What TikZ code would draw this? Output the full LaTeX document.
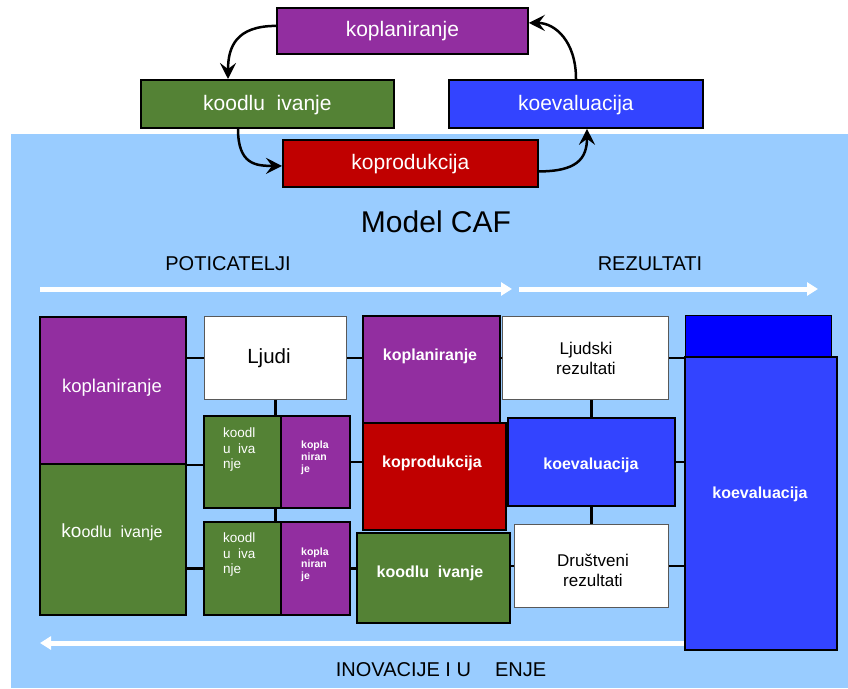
\documentclass[tikz,border=0pt]{standalone}
\usepackage{fontspec}
\setmainfont{Liberation Sans}
\usetikzlibrary{arrows.meta,calc}
\pgfdeclarelayer{bg}
\pgfdeclarelayer{lines}
\pgfsetlayers{bg,lines,main}

\definecolor{skyback}{HTML}{99CCFF}
\definecolor{cafpurple}{HTML}{922EA0}
\definecolor{cafgreen}{HTML}{548235}
\definecolor{cafblue}{HTML}{3344FF}
\definecolor{cafdark}{HTML}{0000FF}
\definecolor{cafred}{HTML}{C00000}

\begin{document}
\begin{tikzpicture}[x=1pt,y=-1pt,
  box/.style={draw=black,line width=1.8pt,anchor=north west,inner sep=0pt},
  wbox/.style={draw=black!65,line width=1pt,fill=white,anchor=north west,inner sep=0pt},
  tt/.style={inner sep=0pt,anchor=base},
  conn/.style={draw=black,line width=2.2pt},
  cyc/.style={line width=2.5pt,-{Stealth[length=16pt,width=16pt,inset=6pt]}},
  warrow/.style={draw=white,line width=5pt,-{Triangle[length=11pt,width=13pt]}},
  topfont/.style={font=\fontsize{21}{25}\selectfont,text=white},
  boldw/.style={font=\fontsize{16}{19}\selectfont\bfseries,text=white}]

\useasboundingbox (0,0) rectangle (848,688);
\begin{pgfonlayer}{bg}
  \fill[white] (0,0) rectangle (848,688);
  \fill[skyback] (11,134) rectangle (848,688);
\end{pgfonlayer}

% ---------- cycle of the four co-activities ----------
\node[box,fill=cafpurple,minimum width=251pt,minimum height=46pt] (tkp) at (276,7) {};
\node[box,fill=cafgreen,minimum width=253pt,minimum height=48pt] (tkd) at (140,79) {};
\node[box,fill=cafblue,minimum width=254pt,minimum height=48pt] (tke) at (448,79) {};
\node[box,fill=cafred,minimum width=255pt,minimum height=47pt] (tkr) at (282,139) {};
\node[tt,topfont] (tkpt) at (tkp.center |- 0,36) {koplaniranje};
\node[tt,topfont] (tkdt) at (tkd.center |- 0,110) {koodlu\ \ ivanje};
\node[tt,topfont] (tket) at (tke.center |- 0,110) {koevaluacija};
\node[tt,topfont] (tkrt) at (tkr.center |- 0,169) {koprodukcija};

\draw[cyc] ([yshift=5pt]tkp.west) .. controls +(-40,0) and +(0,-32) .. ([xshift=88pt]tkd.north west);
\draw[cyc] ([xshift=98pt]tkd.south west) .. controls +(0,36) and +(-26,0) .. ([yshift=-2.5pt]tkr.west);
\draw[cyc] ([yshift=-8pt]tkr.east) .. controls +(38,0) and +(0,30) .. ([xshift=139pt]tke.south west);
\draw[cyc] ([xshift=128pt]tke.north west) .. controls +(0,-38) and +(26,0) .. ([yshift=8pt]tkp.east);

% ---------- headings ----------
\node[tt,font=\fontsize{30}{34}\selectfont] (title) at (436,232) {Model CAF};
\node[tt,font=\fontsize{20}{24}\selectfont] (enab) at (228,270) {POTICATELJI};
\node[tt,font=\fontsize{20}{24}\selectfont] (res) at (650,270) {REZULTATI};
\node[tt,font=\fontsize{20}{24}\selectfont] (innov) at (441,676) {INOVACIJE I U\hspace{24pt}ENJE};

\coordinate (a1s) at (40,289);
\coordinate (a1e) at (512,289);
\coordinate (a2s) at (519,289);
\coordinate (a2e) at (818,289);
\coordinate (a3s) at (684,643);
\coordinate (a3e) at (40,643);

% ---------- model blocks ----------
\node[box,fill=cafpurple,minimum width=146pt,minimum height=147pt] (bp) at (39,316) {};
\node[box,fill=cafgreen,minimum width=146pt,minimum height=151pt] (bgr) at (39,463) {};
\node[wbox,minimum width=142pt,minimum height=83pt] (lj) at (204,316) {};
\node[box,fill=cafgreen,minimum width=77pt,minimum height=92pt] (s1g) at (203,415) {};
\node[box,fill=cafpurple,minimum width=69pt,minimum height=92pt] (s1p) at (280,415) {};
\node[box,fill=cafgreen,minimum width=77pt,minimum height=93pt] (s2g) at (203,521) {};
\node[box,fill=cafpurple,minimum width=69pt,minimum height=93pt] (s2p) at (280,521) {};
\node[box,fill=cafpurple,minimum width=137pt,minimum height=107pt] (mp) at (362,315) {};
\node[box,fill=cafred,minimum width=143pt,minimum height=107pt] (mr) at (362,422) {};
\node[box,fill=cafgreen,minimum width=153pt,minimum height=90pt] (mg) at (356,532) {};
\node[wbox,minimum width=166pt,minimum height=83pt] (lr) at (502,316) {};
\node[box,fill=cafblue,minimum width=167pt,minimum height=88pt] (me) at (507,417) {};
\node[wbox,minimum width=154pt,minimum height=83pt] (dr) at (514,524) {};
\node[box,fill=cafdark,line width=1.2pt,minimum width=146pt,minimum height=41pt] (rt) at (685,315) {};
\node[box,fill=cafblue,minimum width=152pt,minimum height=293pt] (rb) at (684,356) {};

% texts of the blocks
\node[tt,font=\fontsize{18.5}{22}\selectfont,text=white] (bpt) at (112,392) {koplaniranje};
\node[tt,font=\fontsize{16}{19}\selectfont,text=white] (bgt) at (112,537) {{\fontsize{19}{19}\selectfont ko}odlu\ \ ivanje};
\node[tt,font=\fontsize{20.5}{24}\selectfont] (ljt) at (269,363) {Ljudi};
\node[inner sep=0pt,anchor=north west,align=left,font=\fontsize{13.5}{15.5}\selectfont,text=white] (s1gt) at (223,428) {koodl\\u\ \ iva\\nje};
\node[inner sep=0pt,anchor=north west,align=left,font=\fontsize{10.5}{12}\selectfont\bfseries,text=white] (s1pt) at (301,440.5) {kopla\\niran\\je};
\node[inner sep=0pt,anchor=north west,align=left,font=\fontsize{13.5}{15.5}\selectfont,text=white] (s2gt) at (223,533) {koodl\\u\ \ iva\\nje};
\node[inner sep=0pt,anchor=north west,align=left,font=\fontsize{10.5}{12}\selectfont\bfseries,text=white] (s2pt) at (301,547.5) {kopla\\niran\\je};
\node[tt,boldw] (mpt) at (430,360) {koplaniranje};
\node[tt,boldw] (mrt) at (432,467) {koprodukcija};
\node[tt,boldw] (mgt) at (430,577) {koodlu\ \ ivanje};
\node[inner sep=0pt,anchor=north,align=center,font=\fontsize{17}{20}\selectfont] (lrt) at (586,342) {Ljudski\\rezultati};
\node[tt,boldw] (met) at (591,469) {koevaluacija};
\node[inner sep=0pt,anchor=north,align=center,font=\fontsize{17}{20}\selectfont] (drt) at (593,554) {Društveni\\rezultati};
\node[tt,boldw] (rbt) at (760,498) {koevaluacija};

% ---------- connectors and flow arrows, behind the blocks ----------
\begin{pgfonlayer}{lines}
  \draw[warrow] (a1s) -- (a1e);
  \draw[warrow] (a2s) -- (a2e);
  \draw[warrow] (a3s) -- (a3e);
  \draw[conn] (bp.east |- lj.west) -- (lj.west);
  \draw[conn] (lj.east) -- (lj.east -| mp.west);
  \draw[conn] (lj.south) -- (lj.south |- s1g.north);
  \draw[conn] (bp.south east) -- (bp.south east -| s1g.west);
  \draw[conn] (s1p.east) -- (s1p.east -| mr.west);
  \draw[conn] (lj.south |- s1g.south) -- (lj.south |- s2g.north);
  \draw[conn] (bgr.east |- s2g.west) -- (s2g.west);
  \draw[conn] (s2p.east) -- (s2p.east -| mg.west);
  \draw[conn] (dr.west) -- (dr.west -| mg.east);
  \draw[conn] (lr.west) -- (lr.west -| mp.east);
  \draw[conn] (me.north) -- (me.north |- lr.south);
  \draw[conn] (me.south) -- (me.south |- dr.north);
  \draw[conn] (lr.east) -- (lr.east -| rb.west);
  \draw[conn] (me.east) -- (me.east -| rb.west);
  \draw[conn] (dr.east) -- (dr.east -| rb.west);
\end{pgfonlayer}
\end{tikzpicture}
\end{document}
